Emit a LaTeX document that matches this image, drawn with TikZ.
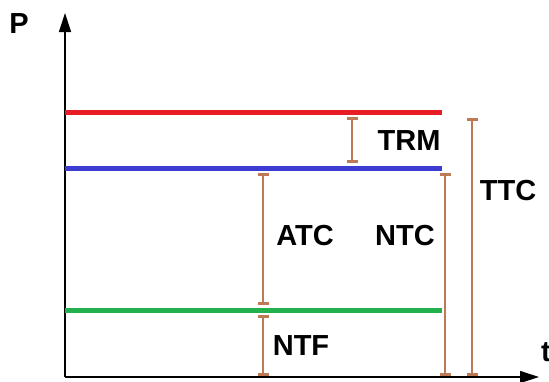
\documentclass[tikz,border=0pt]{standalone}
\usepackage{fontspec}
\setmainfont{Liberation Sans}
\usetikzlibrary{arrows.meta}
\definecolor{barbrown}{RGB}{190,122,84}
\definecolor{lred}{RGB}{232,28,36}
\definecolor{lblue}{RGB}{60,60,210}
\definecolor{lgreen}{RGB}{34,177,76}
\begin{document}
\begin{tikzpicture}[x=1pt,y=-1pt,
  lbl/.style={font=\fontsize{29}{32}\selectfont\bfseries, inner sep=0pt},
  level/.style={line width=5pt},
  span/.style={draw=barbrown, line width=2.8pt, {Bar[width=11pt,line width=3pt]}-{Bar[width=11pt,line width=3pt]}},
  axis/.style={draw=black, line width=1.2pt, -{Triangle[length=19pt,width=12pt]}}]
\useasboundingbox (0,0) rectangle (549,381);
% axes
\coordinate (O) at (65,377);
\coordinate (Ytop) at (65,13);
\coordinate (Xend) at (539,377);
\draw[axis] (O) -- (Ytop);
\draw[axis] (O) -- (Xend);
\node[lbl] (P) at (19,24) {P};
\node[lbl, anchor=west] (t) at (541,352) {t};
% levels
\coordinate (r1) at (65,112); \coordinate (r2) at (442,112);
\coordinate (b1) at (65,168); \coordinate (b2) at (442,168);
\coordinate (g1) at (65,310); \coordinate (g2) at (442,310);
\draw[level, lred] (r1) -- (r2);
\draw[level, lblue] (b1) -- (b2);
\draw[level, lgreen] (g1) -- (g2);
% spans
\coordinate (trmT) at (352,117); \coordinate (trmB) at (352,163);
\coordinate (atcT) at (263,173); \coordinate (atcB) at (263,305);
\coordinate (ntfT) at (263,315); \coordinate (ntfB) at (263,376);
\coordinate (ntcT) at (445,173); \coordinate (ntcB) at (445,376);
\coordinate (ttcT) at (472,118); \coordinate (ttcB) at (472,376);
\draw[span] (trmT) -- (trmB);
\draw[span] (atcT) -- (atcB);
\draw[span] (ntfT) -- (ntfB);
\draw[span] (ntcT) -- (ntcB);
\draw[span] (ttcT) -- (ttcB);
% labels
\node[lbl] (TRM) at (409,141) {TRM};
\node[lbl] (ATC) at (305,236) {ATC};
\node[lbl] (NTC) at (405,236) {NTC};
\node[lbl] (TTC) at (508,191) {TTC};
\node[lbl] (NTF) at (301,346) {NTF};
\end{tikzpicture}
\end{document}
